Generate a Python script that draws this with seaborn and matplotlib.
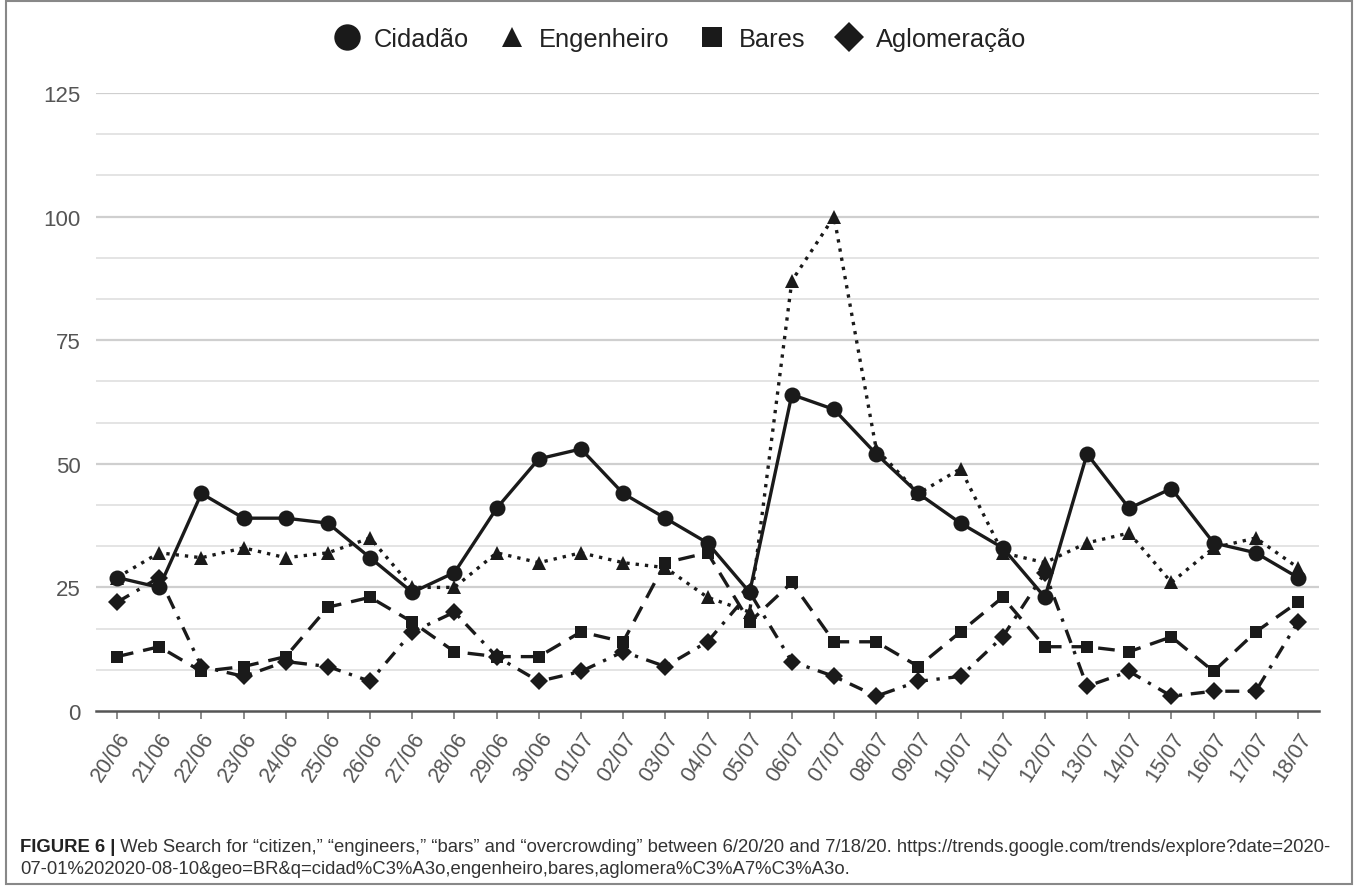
import numpy as np
import pandas as pd
import matplotlib
matplotlib.use("Agg")
import matplotlib.pyplot as plt
from matplotlib.lines import Line2D
from matplotlib.patches import Rectangle
import seaborn as sns

dates = ["20/06", "21/06", "22/06", "23/06", "24/06", "25/06", "26/06", "27/06", "28/06", "29/06",
         "30/06", "01/07", "02/07", "03/07", "04/07", "05/07", "06/07", "07/07", "08/07", "09/07",
         "10/07", "11/07", "12/07", "13/07", "14/07", "15/07", "16/07", "17/07", "18/07"]
cidadao = [27, 25, 44, 39, 39, 38, 31, 24, 28, 41, 51, 53, 44, 39, 34, 24, 64, 61, 52, 44,
           38, 33, 23, 52, 41, 45, 34, 32, 27]
engenheiro = [27, 32, 31, 33, 31, 32, 35, 25, 25, 32, 30, 32, 30, 29, 23, 20, 87, 100, 53, 44,
              49, 32, 30, 34, 36, 26, 33, 35, 29]
bares = [11, 13, 8, 9, 11, 21, 23, 18, 12, 11, 11, 16, 14, 30, 32, 18, 26, 14, 14, 9,
         16, 23, 13, 13, 12, 15, 8, 16, 22]
aglomeracao = [22, 27, 9, 7, 10, 9, 6, 16, 20, 11, 6, 8, 12, 9, 14, 24, 10, 7, 3, 6,
               7, 15, 28, 5, 8, 3, 4, 4, 18]
series_names = ["Cidadão", "Engenheiro", "Bares", "Aglomeração"]
y_ticks = [0, 25, 50, 75, 100, 125]

caption_bold = "FIGURE 6 |"
caption_l1 = (" Web Search for \u201ccitizen,\u201d \u201cengineers,\u201d \u201cbars\u201d and \u201covercrowding\u201d "
              "between 6/20/20 and 7/18/20. https://trends.google.com/trends/explore?date=2020-")
caption_l2 = "07-01%202020-08-10&geo=BR&q=cidad%C3%A3o,engenheiro,bares,aglomera%C3%A7%C3%A3o."

df = pd.DataFrame({"date": dates * 4,
                   "value": cidadao + engenheiro + bares + aglomeracao,
                   "series": sum([[n] * len(dates) for n in series_names], [])})

sns.set_theme(style="white")
plt.rcParams["font.family"] = ["Liberation Sans", "DejaVu Sans"]

W, H = 1357, 887
fig = plt.figure(figsize=(W / 100, H / 100), dpi=100)
ax = fig.add_axes([96 / W, 1 - 712 / H, (1319 - 96) / W, (712 - 94) / H])

ink = "#1a1a1a"
styles = {
    "Cidadão": dict(marker="o", ls="-", ms=11.5),
    "Engenheiro": dict(marker="^", ls=(0, (1.0, 1.8)), ms=10),
    "Bares": dict(marker="s", ls=(0, (5.0, 3.0)), ms=9),
    "Aglomeração": dict(marker="D", ls=(0, (4.2, 2.6, 1.0, 2.6)), ms=9),
}

# gridlines
for v in np.arange(0, 125.01, 25 / 3):
    major = abs(v / 25 - round(v / 25)) < 1e-6
    if v == 0:
        continue
    ax.axhline(v, color="#cfcfcf" if major else "#e4e4e4", lw=1.6 if major else 1.4, zorder=0)

for name in series_names:
    st = styles[name]
    sub = df[df["series"] == name]
    sns.lineplot(data=sub, x="date", y="value", ax=ax, sort=False, color=ink, lw=2.4,
                 linestyle=st["ls"], marker=st["marker"], markersize=st["ms"],
                 markeredgewidth=0, dash_capstyle="butt", zorder=3, legend=False)

ax.set_xlim(-0.5, len(dates) - 0.5)
ax.set_ylim(0, 125)
ax.set_yticks(y_ticks)
ax.set_yticklabels([str(t) for t in y_ticks])
ax.set_xlabel("")
ax.set_ylabel("")
for s in ["top", "right", "left"]:
    ax.spines[s].set_visible(False)
ax.spines["bottom"].set_color("#555555")
ax.spines["bottom"].set_linewidth(1.8)
ax.spines["bottom"].set_zorder(4)
ax.tick_params(axis="y", length=0, pad=11, labelsize=16, labelcolor="#555555")
ax.tick_params(axis="x", length=6, width=1.2, color="#777777", pad=6, labelsize=15.5,
               labelcolor="#555555", bottom=True)
ax.set_xticks(range(len(dates)))
ax.set_xticklabels(dates, rotation=57, ha="right", rotation_mode="anchor")

handles = [Line2D([], [], color=ink, ls="none", marker=styles[n]["marker"],
                  markersize=19 if n == "Cidadão" else 15, markeredgewidth=0) for n in series_names]
fig.legend(handles, series_names, loc="center", bbox_to_anchor=(680 / W, 1 - 40 / H), ncol=4,
           frameon=False, fontsize=18.3, handlelength=1.0, handletextpad=0.55, columnspacing=1.2,
           labelcolor="#222222")

# caption
cap_fs = 13.3
t1 = fig.text(20 / W, 1 - 852 / H, caption_bold, fontsize=cap_fs, fontweight="bold", color="#222222",
              va="baseline")
fig.canvas.draw()
bb = t1.get_window_extent(fig.canvas.get_renderer())
fig.text(bb.x1 / W, 1 - 852 / H, caption_l1, fontsize=cap_fs, color="#333333", va="baseline")
fig.text(20 / W, 1 - 874 / H, caption_l2, fontsize=cap_fs, color="#333333", va="baseline")

fig.patches.append(Rectangle((6 / W, 2 / H), (1352 - 6) / W, (885 - 2) / H, transform=fig.transFigure,
                             fill=False, edgecolor="#888888", lw=1.5))

fig.savefig("out.png", dpi=100, facecolor="white")
